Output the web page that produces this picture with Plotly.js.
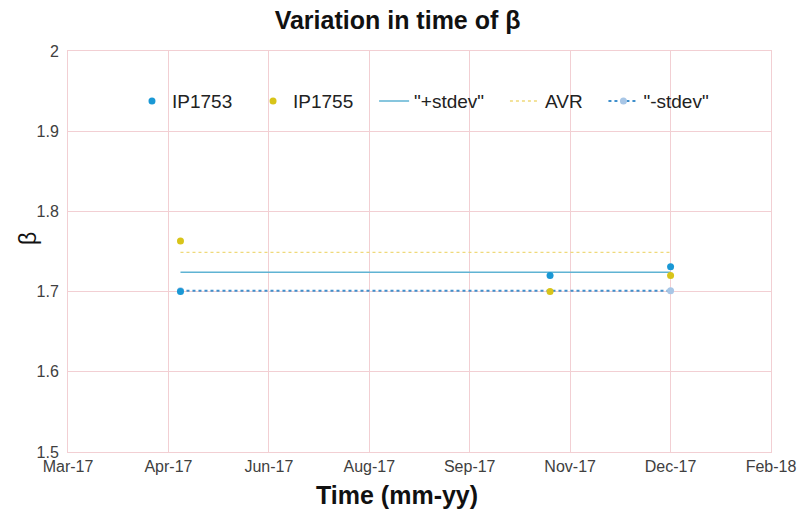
<!DOCTYPE html>
<html>
<head>
<meta charset="utf-8">
<script src="https://cdn.plot.ly/plotly-3.0.1.min.js"></script>
<style>html,body{margin:0;padding:0;background:#fff;}#chart{width:800px;height:521px;}</style>
</head>
<body>
<div id="chart"></div>
<script>
// Data
const datesIP1753 = ['2017-05-01', '2017-11-01', '2017-12-31'];
const valuesIP1753 = [1.700, 1.720, 1.731];
const datesIP1755 = ['2017-05-01', '2017-11-01', '2017-12-31'];
const valuesIP1755 = [1.763, 1.700, 1.720];
const datesStats = ['2017-05-01', '2017-12-31'];
const plusStdev = [1.724, 1.724];
const avr = [1.749, 1.749];
const minusStdev = [1.701, 1.701];
const seriesNames = ['IP1753', 'IP1755', '"+stdev"', 'AVR', '"-stdev"'];
const xTickVals = ['2017-03-06', '2017-04-25', '2017-06-14', '2017-08-03', '2017-09-22', '2017-11-11', '2017-12-31', '2018-02-19'];
const yTickVals = [1.5, 1.6, 1.7, 1.8, 1.9, 2];

const FONT = '"Liberation Sans", Arial, sans-serif';
const grid = '#f2cfd3';
const pad = '\u00a0\u00a0\u00a0';

const traces = [
  {name: seriesNames[2] + pad, legendrank: 3, x: datesStats, y: plusStdev, type: 'scatter', mode: 'lines',
   line: {color: '#5fb3d3', width: 1.5}},
  {name: seriesNames[3] + pad, legendrank: 4, x: datesStats, y: avr, type: 'scatter', mode: 'lines',
   line: {color: '#efd97a', width: 1.3, dash: '3px,3px'}},
  {name: seriesNames[4], legendrank: 5, x: datesStats, y: minusStdev, type: 'scatter', mode: 'lines+markers',
   line: {color: '#3f8fcc', width: 2, dash: 'dot'},
   marker: {color: '#a8c6e6', size: 7}},
  {name: seriesNames[0] + pad, legendrank: 1, x: datesIP1753, y: valuesIP1753, type: 'scatter', mode: 'markers',
   marker: {color: '#1a98d5', size: 7}},
  {name: seriesNames[1] + pad, legendrank: 2, x: datesIP1755, y: valuesIP1755, type: 'scatter', mode: 'markers',
   marker: {color: '#d8c419', size: 7}}
];

const layout = {
  width: 800, height: 521,
  margin: {l: 68, r: 29, t: 51, b: 69},
  paper_bgcolor: '#ffffff', plot_bgcolor: '#ffffff',
  font: {family: FONT, color: '#404040', size: 16},
  title: {text: '<b>Variation in time of β</b>', x: 0.497, xanchor: 'center', y: 0.962, yanchor: 'middle',
          font: {family: FONT, size: 25, color: '#111'}},
  xaxis: {
    type: 'date', range: ['2017-03-06', '2018-02-19'],
    tickmode: 'array', tickvals: xTickVals, tickformat: '%b-%y',
    showgrid: true, gridcolor: grid, gridwidth: 1,
    showline: true, linecolor: grid, mirror: true, zeroline: false,
    ticks: '', tickfont: {size: 16, color: '#404040'}
  },
  yaxis: {
    range: [1.5, 2], tickmode: 'array', tickvals: yTickVals,
    showgrid: true, gridcolor: grid, gridwidth: 1,
    showline: true, linecolor: grid, mirror: true, zeroline: false,
    ticks: '', ticklabelstandoff: 5, tickfont: {size: 16, color: '#404040'}
  },
  annotations: [
    {text: '<b>Time (mm-yy)</b>', xref: 'paper', yref: 'paper', x: 0.468, y: 0, xanchor: 'center', yanchor: 'middle',
     yshift: -43, showarrow: false, font: {family: FONT, size: 25, color: '#111'}},
    {text: 'β', xref: 'paper', yref: 'paper', x: 0, y: 0.531, xanchor: 'center', yanchor: 'middle',
     xshift: -40, textangle: -90, showarrow: false, font: {family: FONT, size: 23, color: '#111'}}
  ],
  showlegend: true,
  legend: {orientation: 'h', x: 0.091, xanchor: 'left', y: 0.875, yanchor: 'middle',
           bgcolor: 'rgba(0,0,0,0)', font: {size: 19, color: '#222'}}
};

Plotly.newPlot('chart', traces, layout, {displayModeBar: false, staticPlot: true});
</script>
</body>
</html>
